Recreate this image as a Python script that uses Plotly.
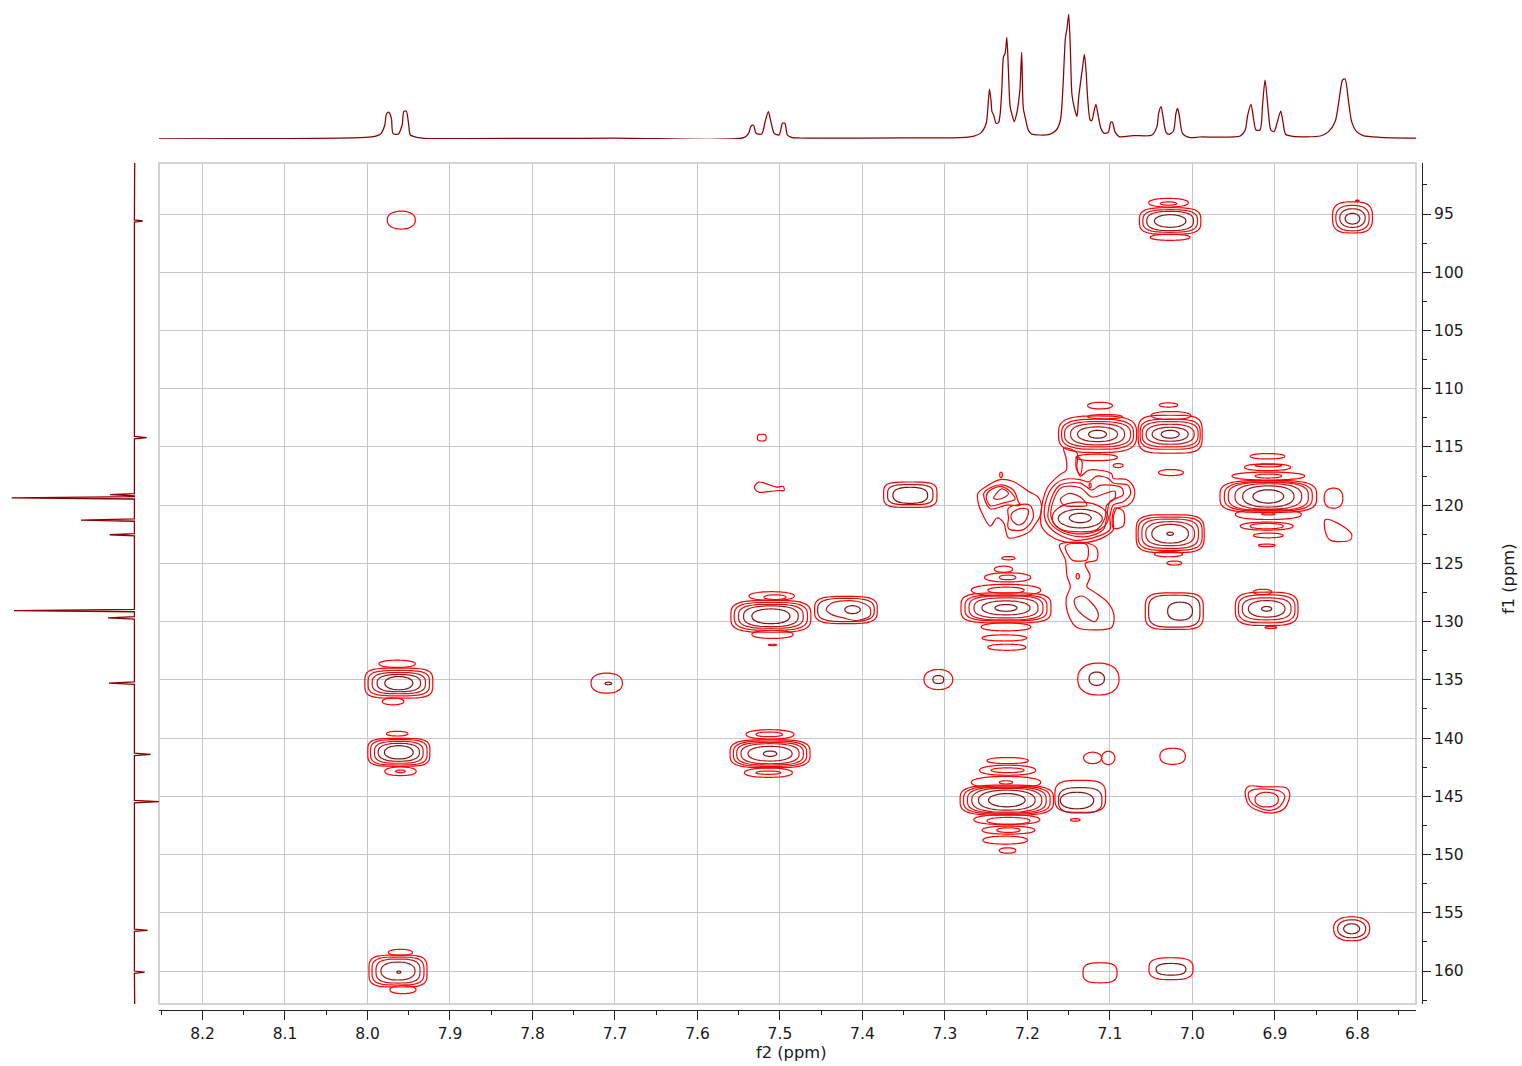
import numpy as np
import plotly.graph_objects as go

# ---------- axes ----------
F2_TICKS = [8.2, 8.1, 8.0, 7.9, 7.8, 7.7, 7.6, 7.5, 7.4, 7.3, 7.2, 7.1, 7.0, 6.9, 6.8]
F1_TICKS = [95, 100, 105, 110, 115, 120, 125, 130, 135, 140, 145, 150, 155, 160]
F2_RANGE = [8.2527, 6.729]
F1_RANGE = [162.83, 90.62]

# ---------- 1H projection (f2 ppm, relative intensity) ----------
PROTON_F2 = [8.253, 8.1, 8.009, 7.993, 7.984, 7.979, 7.977, 7.974, 7.971, 7.969, 7.963, 7.958, 7.956, 7.953, 7.950, 7.948, 7.938, 7.932,
             7.7, 7.544, 7.538, 7.535, 7.532, 7.529, 7.522, 7.518, 7.514, 7.511, 7.507, 7.501, 7.497, 7.494, 7.491, 7.486, 7.476, 7.4, 7.3,
             7.282, 7.266, 7.256, 7.250, 7.248, 7.246, 7.244, 7.243, 7.241, 7.238, 7.235, 7.233, 7.231, 7.229, 7.227, 7.225, 7.223, 7.221, 7.218, 7.216,
             7.213, 7.211, 7.209, 7.207, 7.205, 7.202, 7.199, 7.195, 7.185, 7.173, 7.165, 7.160, 7.157, 7.154, 7.152, 7.150, 7.148, 7.146, 7.143, 7.140,
             7.138, 7.135, 7.133, 7.131, 7.129, 7.127, 7.124, 7.122, 7.119, 7.117, 7.114, 7.111, 7.107, 7.102, 7.099, 7.097, 7.094, 7.089, 7.072, 7.049,
             7.043, 7.041, 7.038, 7.036, 7.032, 7.028, 7.023, 7.020, 7.018, 7.016, 7.012, 7.003, 6.991, 6.942, 6.936, 6.933, 6.929, 6.926, 6.923, 6.918,
             6.915, 6.912, 6.908, 6.905, 6.901, 6.897, 6.893, 6.890, 6.887, 6.878, 6.845, 6.835, 6.827, 6.822, 6.818, 6.815, 6.811, 6.807, 6.801, 6.793, 6.773, 6.729]
PROTON_I = [-0.7, -0.3, 0.6, 1.6, 4.3, 13.3, 24.3, 26, 20, 5, 4, 13.3, 26.6, 27.3, 13.3, 3.3, 0.6, 0,
            0.2, 0.6, 5, 12.3, 13, 5, 4.3, 16.6, 26.6, 16.6, 5, 3.3, 15, 15, 3.3, 1, 0.3, 0.2, 0.5,
            0.7, 2, 5.7, 15, 30, 49.3, 36.7, 26.7, 23.3, 15, 15.7, 25, 50, 81.7, 85, 101, 66.7, 31.7, 21.7, 16.7,
            25, 35, 50, 86, 30, 18.3, 8.3, 4.3, 3.3, 4, 8.3, 18.3, 50, 100, 110, 124, 90, 43.3, 30, 21.7,
            40, 60, 71.7, 84, 68.3, 40, 18.3, 17.7, 28.3, 34, 21.7, 10, 5, 6, 16, 16, 6.7, 1.7, 2.7, 3.3,
            11.7, 25, 31.7, 23.3, 6, 4, 7.3, 25, 30, 23.3, 5, 0.7, 1.3, 2.3, 8.3, 23.3, 34, 20, 8.3, 8.3,
            33.3, 58.3, 26.7, 8.3, 6.7, 16.7, 27.3, 15, 4, 2, 2.3, 6.7, 16.7, 40, 58.3, 59.3, 38.3, 16.7, 6.7, 2.7, 1, 0.2]

# ---------- 13C projection (f1 ppm, relative intensity) ----------
CARBON_F1 = [95.6, 114.2, 119.1, 119.37, 121.28, 122.54, 129.05, 129.68, 135.28, 141.4, 145.45, 156.5, 160.1]
CARBON_I = [-8, -12, 24.6, 123, 53.7, 25, 120.7, 26.7, 25.7, -16, -25, -13, -10]

# ---------- contour rings: f2, f1, half-width f2, half-width f1, squareness ----------
PEAK_A = [(7.226, 128.82, .0545, 1.29, 4), (7.226, 128.82, .0497, 1.11, 3.6), (7.226, 128.82, .0448, 1.03, 3.2), (7.226, 128.82, .0388, .86, 2.8), (7.226, 128.82, .0291, .6, 2.2), (7.226, 128.82, .0133, .29, 2)]
PEAK_B = [(7.115, 113.91, .0473, 1.57, 3.2), (7.115, 113.91, .0436, 1.29, 3), (7.115, 113.91, .04, 1.09, 2.8), (7.115, 113.91, .0327, .91, 2.5), (7.115, 113.91, .0242, .63, 2.2), (7.115, 113.91, .0109, .34, 2)]
PEAK_C = [(7.027, 113.91, .0388, 1.63, 4), (7.027, 113.91, .0364, 1.29, 3.5), (7.027, 113.91, .0339, 1.09, 3), (7.027, 113.91, .0291, .86, 2.5), (7.027, 113.91, .0218, .6, 2.2), (7.027, 113.91, .0109, .34, 2)]
PEAK_D = [(7.136, 121.1, .034, 1.37, 2), (7.136, 121.15, .0267, .8, 2), (7.136, 121.1, .0133, .4, 2)]
PEAK_E = [(7.027, 122.45, .0412, 1.63, 4), (7.027, 122.45, .0388, 1.43, 3.6), (7.027, 122.45, .0343, 1.26, 3.2), (7.027, 122.45, .0295, 1.03, 2.6), (7.027, 122.45, .0222, .8, 2.2), (7.027, 122.45, .004, .14, 2)]
PEAK_F = [(6.908, 119.25, .0586, 1.37, 3.5), (6.908, 119.25, .0533, 1.26, 3.2), (6.908, 119.25, .0485, 1.2, 3), (6.908, 119.25, .0404, 1.09, 2.6), (6.908, 119.25, .0311, .91, 2.3), (6.908, 119.25, .0186, .57, 2)]
PEAK_G = [(7.022, 129.1, .0352, 1.57, 4), (7.022, 129.1, .0311, 1.37, 3.5), (7.015, 129.1, .015, .77, 2.4)]
PEAK_H = [(6.91, 128.9, .038, 1.43, 3.5), (6.91, 128.9, .0343, 1.2, 3.2), (6.91, 128.9, .0295, .94, 2.8), (6.91, 128.9, .0222, .71, 2.2), (6.91, 128.9, .0061, .2, 2)]
PEAK_I = [(7.114, 134.93, .025, 1.37, 2.3), (7.116, 134.9, .0093, .57, 2.2)]
PEAK_J = [(7.308, 134.97, .0174, .86, 2.2), (7.308, 134.97, .0065, .34, 2.5)]
PEAK_M = [(7.342, 119.1, .0323, 1.09, 4), (7.342, 119.1, .0275, .86, 3.5), (7.342, 119.15, .021, .69, 2.5)]
PEAK_N = [(7.511, 129.54, .0485, 1.37, 3.5), (7.511, 129.54, .0444, 1.2, 3.2), (7.511, 129.54, .0392, 1.03, 3), (7.511, 129.54, .0331, .89, 2.6), (7.511, 129.54, .023, .63, 2.2)]
PEAK_O = [(7.42, 129.0, .038, 1.17, 3.5), (7.42, 129.0, .0343, 1.0, 3), (7.412, 128.97, .0093, .34, 2)]
PEAK_P = [(7.512, 141.34, .0485, 1.2, 3.5), (7.512, 141.34, .0444, 1.09, 3.2), (7.512, 141.34, .0404, .97, 3), (7.512, 141.34, .0352, .86, 2.6), (7.512, 141.34, .0267, .63, 2.2), (7.512, 141.34, .0081, .23, 2)]
PEAK_Q = [(7.962, 135.28, .0412, 1.29, 4), (7.962, 135.28, .0372, 1.09, 3.5), (7.962, 135.28, .0323, .91, 3), (7.962, 135.28, .0263, .74, 2.6), (7.962, 135.28, .017, .57, 2.1)]
PEAK_R = [(7.962, 141.22, .0376, 1.2, 4), (7.962, 141.22, .0343, 1.09, 3.5), (7.962, 141.22, .0295, .94, 3), (7.962, 141.22, .025, .77, 2.5), (7.962, 141.22, .0174, .57, 2.1)]
PEAK_S = [(7.71, 135.28, .019, .86, 2.3), (7.708, 135.31, .004, .11, 2)]
PEAK_T = [(7.225, 145.33, .0566, 1.29, 3.5), (7.225, 145.33, .0525, 1.2, 3.2), (7.225, 145.33, .0477, 1.11, 3), (7.225, 145.33, .0424, 1.03, 2.6), (7.225, 145.33, .0343, .86, 2.3), (7.225, 145.33, .0222, .57, 2)]
PEAK_U = [(7.136, 145.0, .0307, 1.37, 3.5), (7.136, 145.34, .0263, 1.09, 3), (7.14, 145.36, .0202, .71, 2.2)]
PEAK_W = [(7.024, 141.56, .0154, .69, 2.4)]
PEAK_V1 = [(7.121, 141.7, .011, .49, 2)]
PEAK_V2 = [(7.102, 141.7, .008, .57, 2)]
PEAK_X = [(6.910, 145.28, .0141, .63, 2.2)]
PEAK_Y1 = [(7.959, 95.52, .017, .77, 2.2)]
PEAK_Y2 = [(7.027, 95.6, .0372, 1.14, 3.5), (7.027, 95.6, .0331, .97, 3), (7.027, 95.6, .0283, .83, 2.6), (7.027, 95.6, .019, .54, 2.1)]
PEAK_Y3 = [(6.806, 95.29, .0242, 1.34, 3), (6.806, 95.35, .0202, 1.09, 2.6), (6.806, 95.35, .0154, .8, 2.2), (6.806, 95.4, .0089, .46, 2)]
PEAK_Y4 = [(6.807, 156.37, .0218, 1.03, 2.4), (6.807, 156.37, .017, .77, 2.2), (6.807, 156.37, .0097, .43, 2)]
PEAK_Y5 = [(7.112, 160.15, .0206, .86, 3)]
PEAK_Y6 = [(7.026, 159.8, .0267, .94, 3), (7.026, 159.85, .018, .5, 2.6)]
PEAK_Y7 = [(7.963, 160.0, .0352, 1.37, 4), (7.963, 160.0, .0315, 1.2, 3.5), (7.963, 160.0, .0267, 1.03, 3), (7.963, 160.0, .0206, .77, 2.3), (7.962, 160.1, .0024, .09, 2)]
PEAK_Z = [(6.829, 119.4, .0113, .86, 2.4)]
PEAK_K = [(7.522, 114.2, .0053, .29, 3)]
ALL_PEAKS = [PEAK_A, PEAK_B, PEAK_C, PEAK_D, PEAK_E, PEAK_F, PEAK_G, PEAK_H, PEAK_I, PEAK_J, PEAK_K, PEAK_M, PEAK_N, PEAK_O, PEAK_P,
             PEAK_Q, PEAK_R, PEAK_S, PEAK_T, PEAK_U, PEAK_W, PEAK_V1, PEAK_V2, PEAK_X, PEAK_Y1, PEAK_Y2, PEAK_Y3, PEAK_Y4, PEAK_Y5,
             PEAK_Y6, PEAK_Y7, PEAK_Z]

# t1-noise side lobes: f2, f1, half-width f2, half-width f1
LOBES_OUTER = [(7.223, 124.55, .008, .14), (7.229, 125.5, .011, .26), (7.224, 126.2, .028, .39), (7.226, 127.3, .042, .5),
               (7.226, 130.45, .030, .34), (7.228, 131.4, .027, .26), (7.225, 132.2, .023, .26),
               (7.112, 111.45, .015, .28), (7.106, 112.4, .021, .18), (7.116, 115.9, .025, .28), (7.090, 116.6, .006, .17),
               (7.029, 111.4, .011, .18), (7.026, 112.3, .024, .34), (7.026, 117.2, .015, .26),
               (7.029, 124.2, .017, .23), (7.022, 124.97, .009, .17),
               (6.909, 115.8, .021, .23), (6.909, 116.74, .028, .29), (6.908, 117.5, .044, .34), (6.908, 120.8, .040, .43),
               (6.91, 121.8, .032, .34), (6.908, 122.6, .018, .2), (6.91, 123.45, .010, .11),
               (6.915, 127.45, .011, .23), (6.905, 130.5, .007, .09),
               (7.51, 127.8, .0275, .37), (7.509, 131.1, .025, .34), (7.509, 132.0, .005, .06),
               (7.512, 139.68, .029, .4), (7.514, 142.97, .029, .4),
               (7.964, 133.62, .022, .31), (7.969, 136.85, .013, .29), (7.964, 139.62, .013, .2), (7.96, 142.85, .019, .37),
               (7.224, 141.93, .025, .26), (7.224, 142.76, .034, .43), (7.226, 143.8, .042, .51), (7.225, 147, .04, .43),
               (7.223, 147.9, .032, .34), (7.227, 148.76, .027, .34), (7.224, 149.65, .01, .23),
               (7.142, 147.02, .0057, .11), (7.029, 94.03, .024, .37), (7.027, 97.0, .024, .26), (6.80, 93.86, .002, .06),
               (7.96, 158.4, .0145, .26), (7.957, 161.6, .0158, .34), (7.232, 117.4, .0016, .23), (7.139, 126.1, .002, .23), (7.124, 118.3, .0012, .2)]
LOBES_INNER = [(7.224, 126.2, .010, .2), (7.226, 127.3, .022, .26), (6.908, 116.6, .016, .11), (6.908, 117.5, .016, .17),
               (6.908, 120.75, .008, .09), (6.91, 121.8, .02, .23), (7.506, 127.9, .0133, .2), (7.513, 139.68, .016, .2),
               (7.514, 142.97, .015, .14), (7.96, 142.85, .006, .11), (7.224, 142.76, .02, .2), (7.226, 143.8, .008, .14),
               (7.223, 147.1, .026, .29), (7.223, 147.9, .014, .2), (7.029, 94.1, .01, .14)]

# irregular contours read point by point: (f2, f1)
CLUSTER_1 = [(7.184, 121.1), (7.181, 119.5), (7.175, 118.4), (7.161, 117.4), (7.153, 117.0), (7.153, 116.0), (7.156, 115.1), (7.140, 115.5), (7.140, 116.8), (7.136, 117.5), (7.126, 117.0), (7.112, 117.0), (7.098, 117.3), (7.096, 117.7), (7.080, 117.8), (7.071, 118.5), (7.071, 119.4), (7.078, 120.0), (7.092, 120.3), (7.096, 121.1), (7.096, 122.1), (7.106, 122.7), (7.128, 123.2), (7.152, 123.2), (7.171, 122.7), (7.183, 121.8)]
CLUSTER_2 = [(7.179, 121.1), (7.177, 119.5), (7.169, 118.4), (7.156, 117.8), (7.136, 117.8), (7.126, 118.0), (7.116, 117.5), (7.102, 117.7), (7.096, 118.1), (7.078, 118.3), (7.075, 119.0), (7.084, 119.7), (7.096, 120.0), (7.100, 121.0), (7.100, 122.1), (7.116, 122.7), (7.144, 123.0), (7.169, 122.2)]
CLUSTER_3 = [(7.175, 121.1), (7.171, 119.4), (7.161, 118.3), (7.136, 118.1), (7.122, 118.7), (7.112, 118.3), (7.086, 118.5), (7.084, 119.1), (7.100, 119.7), (7.104, 121.1), (7.108, 122.1), (7.128, 122.7), (7.152, 122.5), (7.169, 121.8)]
CLUSTER_4 = [(7.171, 121.1), (7.169, 119.7), (7.159, 118.5), (7.136, 118.5), (7.122, 119.3), (7.106, 119.0), (7.094, 118.8), (7.094, 119.4), (7.104, 120.0), (7.106, 121.1), (7.116, 122.1), (7.136, 122.3), (7.161, 122.0)]
CLUSTER_UPPER = [(7.160, 119.5), (7.150, 119.0), (7.136, 119.3), (7.128, 120.0), (7.144, 120.1), (7.156, 120.0)]
ARM_1 = [(7.260, 118.97), (7.247, 118.25), (7.233, 117.8), (7.217, 117.97), (7.199, 118.8), (7.187, 119.3), (7.183, 120.0), (7.185, 121.0), (7.191, 121.7), (7.197, 122.25), (7.211, 122.7), (7.223, 122.8), (7.229, 121.5), (7.237, 121.1), (7.245, 121.8), (7.255, 120.7), (7.260, 119.7)]
ARM_2 = [(7.253, 119), (7.245, 118.5), (7.231, 118.25), (7.217, 118.7), (7.211, 119.7), (7.209, 120), (7.225, 120), (7.245, 120.3)]
ARM_3 = [(7.250, 119.25), (7.245, 118.7), (7.231, 118.4), (7.219, 118.97), (7.215, 119.5), (7.229, 119.8), (7.245, 120.05)]
ARM_4 = [(7.241, 119.4), (7.231, 118.6), (7.223, 118.97), (7.227, 119.3), (7.237, 119.5)]
ARM_5 = [(7.219, 120.7), (7.209, 120.3), (7.199, 120.4), (7.203, 121.4), (7.211, 121.7), (7.219, 121.25)]
ARM_6 = [(7.223, 120.25), (7.197, 120), (7.193, 121.1), (7.205, 122.1), (7.223, 122), (7.223, 121.1)]
NECK_1 = [(7.161, 123.4), (7.154, 124.7), (7.152, 126.1), (7.148, 127), (7.153, 128), (7.150, 129.5), (7.140, 130.5), (7.116, 130.7), (7.098, 130.5), (7.095, 129.5), (7.102, 128.4), (7.120, 127.4), (7.128, 127), (7.124, 126.1), (7.130, 125), (7.116, 124.7), (7.116, 123.7), (7.128, 123.25)]
NECK_2 = [(7.143, 128.1), (7.134, 127.8), (7.122, 128.4), (7.114, 129.4), (7.118, 130), (7.132, 129.5), (7.141, 128.8)]
NECK_3 = [(7.154, 123.5), (7.146, 124.7), (7.136, 124.8), (7.128, 124.7), (7.128, 123.4)]
BRIDGE = [(7.14, 115.8), (7.141, 116.8), (7.136, 117.4), (7.134, 116.25)]
SIDE = [(7.094, 120.25), (7.084, 120.5), (7.084, 121.8), (7.096, 121.95)]
TEAR = [(6.839, 121.25), (6.825, 121.5), (6.807, 122.5), (6.809, 123.0), (6.833, 123), (6.839, 122.25)]
TAIL_L = [(7.531, 118.48), (7.526, 118.02), (7.516, 118.17), (7.504, 118.45), (7.496, 118.39), (7.495, 118.74), (7.502, 118.74), (7.512, 118.82), (7.526, 118.88)]
RING_O = [(7.444, 128.97), (7.437, 128.4), (7.407, 128.25), (7.391, 128.8), (7.391, 129.5), (7.407, 129.9), (7.423, 129.68), (7.437, 129.4)]
RING_X1 = [(6.936, 144.56), (6.932, 144.13), (6.912, 144.19), (6.886, 144.28), (6.882, 144.85), (6.888, 146), (6.902, 146.42), (6.918, 146.28), (6.932, 145.7)]
RING_X2 = [(6.932, 144.7), (6.926, 144.42), (6.894, 144.56), (6.888, 145), (6.894, 145.85), (6.906, 146.2), (6.922, 145.9), (6.930, 145.42)]
OUTLINES = [(CLUSTER_1, 0), (CLUSTER_2, 0), (CLUSTER_3, 1), (CLUSTER_4, 2), (CLUSTER_UPPER, 3), (ARM_1, 0), (ARM_2, 0), (ARM_3, 1), (ARM_4, 3),
            (ARM_5, 2), (ARM_6, 0), (NECK_1, 0), (NECK_2, 3), (NECK_3, 0), (BRIDGE, 0), (SIDE, 0), (TEAR, 0), (TAIL_L, 0), (RING_O, 3),
            (RING_X1, 0), (RING_X2, 2)]

LEVEL_COLORS = ["#ff0000", "#f50a0a", "#e41212", "#c81818", "#a81616", "#851010"]
W, H = 1522, 1066
theta = np.linspace(0, 2 * np.pi, 61)
paths_x = [[] for _ in LEVEL_COLORS]
paths_y = [[] for _ in LEVEL_COLORS]


def add_ring(level, f2, f1, rx, ry, n=2.2):
    cx = np.cos(theta)
    sy = np.sin(theta)
    paths_x[level] += list(f2 + rx * np.sign(cx) * np.abs(cx) ** (2 / n)) + [None]
    paths_y[level] += list(f1 + ry * np.sign(sy) * np.abs(sy) ** (2 / n)) + [None]


for peak in ALL_PEAKS:
    for i, ring in enumerate(peak):
        level = 0 if i == 0 else 5 - (len(peak) - 1 - i)
        add_ring(level, *ring)
for lobe in LOBES_OUTER:
    add_ring(0, *lobe)
for lobe in LOBES_INNER:
    add_ring(1, *lobe)
for outline, level in OUTLINES:
    xs = [p[0] for p in outline] + [outline[0][0]]
    ys = [p[1] for p in outline] + [outline[0][1]]
    paths_x[level] += xs + [None]
    paths_y[level] += ys + [None]

fig = go.Figure()
for level, color in enumerate(LEVEL_COLORS):
    fig.add_trace(go.Scatter(x=paths_x[level], y=paths_y[level], mode="lines", hoverinfo="skip",
                             line=dict(color=color, width=1.2, shape="spline", smoothing=0.9), showlegend=False,
                             xaxis="x", yaxis="y"))

fig.add_trace(go.Scatter(x=PROTON_F2, y=PROTON_I, mode="lines", hoverinfo="skip", showlegend=False,
                         line=dict(color="#8b0000", width=1.25, shape="spline", smoothing=0.7), xaxis="x3", yaxis="y3"))

carbon_f1 = [F1_RANGE[1]]
carbon_i = [0.0]
for f1, inten in zip(CARBON_F1, CARBON_I):
    carbon_f1 += [f1 - 0.1, f1, f1 + 0.1]
    carbon_i += [0.3, inten, 0.3]
carbon_f1.append(F1_RANGE[0])
carbon_i.append(0.0)
fig.add_trace(go.Scatter(x=carbon_i, y=carbon_f1, mode="lines", hoverinfo="skip", showlegend=False,
                         line=dict(color="#8b0000", width=1.3), xaxis="x4", yaxis="y4"))

x_domain = [159 / W, 1416 / W]
y_domain = [(H - 1004) / H, (H - 163) / H]
GRID = "#c6c6c6"
FONT = dict(family="DejaVu Sans", size=15.5, color="#1a1a1a")
TITLE_FONT = dict(family="DejaVu Sans", size=16.3, color="#1a1a1a")
fig.update_layout(
    width=W, height=H, autosize=False, margin=dict(l=0, r=0, t=0, b=0),
    paper_bgcolor="white", plot_bgcolor="white", showlegend=False, font=FONT,
    xaxis=dict(domain=x_domain, range=F2_RANGE, anchor="free", position=56 / H, showline=True, linecolor="#222", linewidth=1,
               tickmode="array", tickvals=F2_TICKS, ticktext=[f"{v:.1f}" for v in F2_TICKS], ticks="outside", ticklen=9, tickcolor="#222",
               showgrid=True, gridcolor=GRID, gridwidth=1, zeroline=False,
               minor=dict(dtick=0.05, tick0=0, ticks="outside", ticklen=4, tickcolor="#222", showgrid=False)),
    yaxis=dict(domain=y_domain, range=F1_RANGE, anchor="free", position=1422 / W, side="right", showline=True, linecolor="#222", linewidth=1,
               tickmode="array", tickvals=F1_TICKS, ticktext=[str(v) for v in F1_TICKS], ticks="outside", ticklen=8, tickcolor="#222",
               showgrid=True, gridcolor=GRID, gridwidth=1, zeroline=False,
               minor=dict(dtick=2.5, tick0=0, ticks="outside", ticklen=4, tickcolor="#222", showgrid=False)),
    xaxis3=dict(domain=x_domain, range=F2_RANGE, visible=False, anchor="y3"),
    yaxis3=dict(domain=[(H - 139) / H, (H - 5) / H], range=[-0.7, 133.3], visible=False, anchor="x3"),
    xaxis4=dict(domain=[0, 159 / W], range=[134.7, -24.3], visible=False, anchor="y4"),
    yaxis4=dict(domain=y_domain, range=F1_RANGE, visible=False, anchor="x4"),
    shapes=[dict(type="rect", xref="paper", yref="paper", x0=x_domain[0], x1=x_domain[1], y0=y_domain[0], y1=y_domain[1],
                 line=dict(color=GRID, width=1.5), fillcolor="rgba(0,0,0,0)", layer="below")],
    annotations=[
        dict(text="f2 (ppm)", xref="paper", yref="paper", x=791 / W, y=(H - 1052) / H, xanchor="center", yanchor="middle", showarrow=False, font=TITLE_FONT),
        dict(text="f1 (ppm)", xref="paper", yref="paper", x=1508 / W, y=(H - 579) / H, xanchor="center", yanchor="middle", textangle=-90, showarrow=False, font=TITLE_FONT),
    ],
)
fig.write_html("out.html", post_script="document.body.style.margin='0';", config={"displayModeBar": False})
